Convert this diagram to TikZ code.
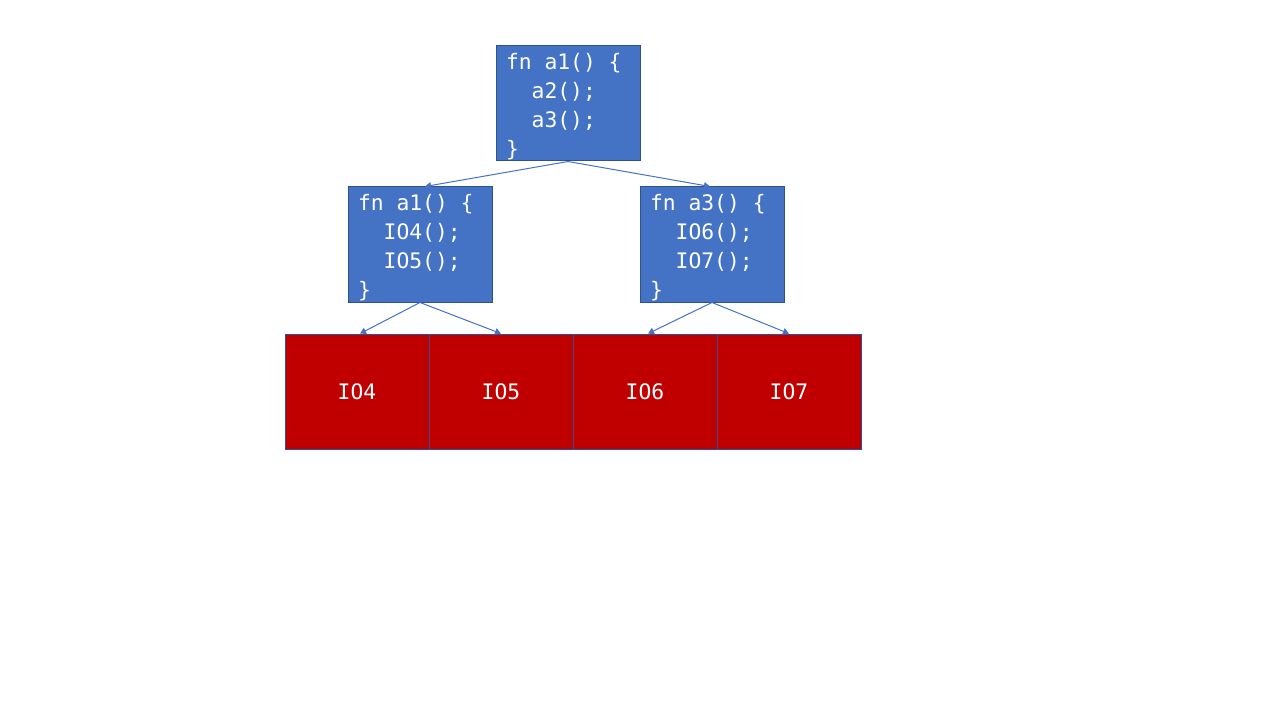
\documentclass[tikz,border=0pt]{standalone}
\usepackage{fontspec}
\setmonofont{DejaVu Sans Mono}
\usetikzlibrary{arrows.meta}
\definecolor{boxblue}{HTML}{4472C4}
\definecolor{edgeblue}{HTML}{2F528F}
\definecolor{cellred}{HTML}{C00000}
\newcommand\monosp{\hspace*{0.602em}}
\newcommand\firststrut{\rule{0pt}{16.7pt}}
\tikzset{
  codebox/.style={draw=edgeblue, line width=0.75pt, fill=boxblue, text=white,
    minimum width=108pt, minimum height=86.25pt, text width=93pt,
    inner xsep=7.5pt, inner ysep=0pt, align=left,
    font=\ttfamily\fontsize{16}{21.75}\selectfont},
  iocell/.style={draw=edgeblue, line width=0.6pt, fill=cellred, text=white,
    minimum width=108pt, minimum height=86.25pt, inner sep=0pt,
    font=\ttfamily\fontsize{16}{20}\selectfont},
  callarrow/.style={draw=boxblue, line width=0.75pt,
    -{Triangle[width=5pt,length=4.5pt]}}
}
\begin{document}
\begin{tikzpicture}[x=0.75pt,y=-0.75pt]
\useasboundingbox (0,0) rectangle (1280,720);
\node[codebox] (top) at (568,103.5) {\firststrut fn\monosp a1()\monosp\{\\\monosp\monosp a2();\\\monosp\monosp a3();\\\}};
\node[codebox] (left) at (420,244.5) {\firststrut fn\monosp a1()\monosp\{\\\monosp\monosp IO4();\\\monosp\monosp IO5();\\\}};
\node[codebox] (right) at (712,244.5) {\firststrut fn\monosp a3()\monosp\{\\\monosp\monosp IO6();\\\monosp\monosp IO7();\\\}};
\node[iocell] (c4) at (357,391.5) {\raisebox{-1.5pt}{IO4}};
\node[iocell] (c5) at (501,391.5) {\raisebox{-1.5pt}{IO5}};
\node[iocell] (c6) at (645,391.5) {\raisebox{-1.5pt}{IO6}};
\node[iocell] (c7) at (789,391.5) {\raisebox{-1.5pt}{IO7}};
\draw[callarrow] (top.south) -- ([xshift=3.75pt]left.north);
\draw[callarrow] (top.south) -- ([xshift=-1.5pt]right.north);
\draw[callarrow] (left.south) -- ([xshift=2.25pt]c4.north);
\draw[callarrow] (left.south) -- (c5.north);
\draw[callarrow] (right.south) -- ([xshift=2.25pt]c6.north);
\draw[callarrow] (right.south) -- (c7.north);
\end{tikzpicture}
\end{document}
